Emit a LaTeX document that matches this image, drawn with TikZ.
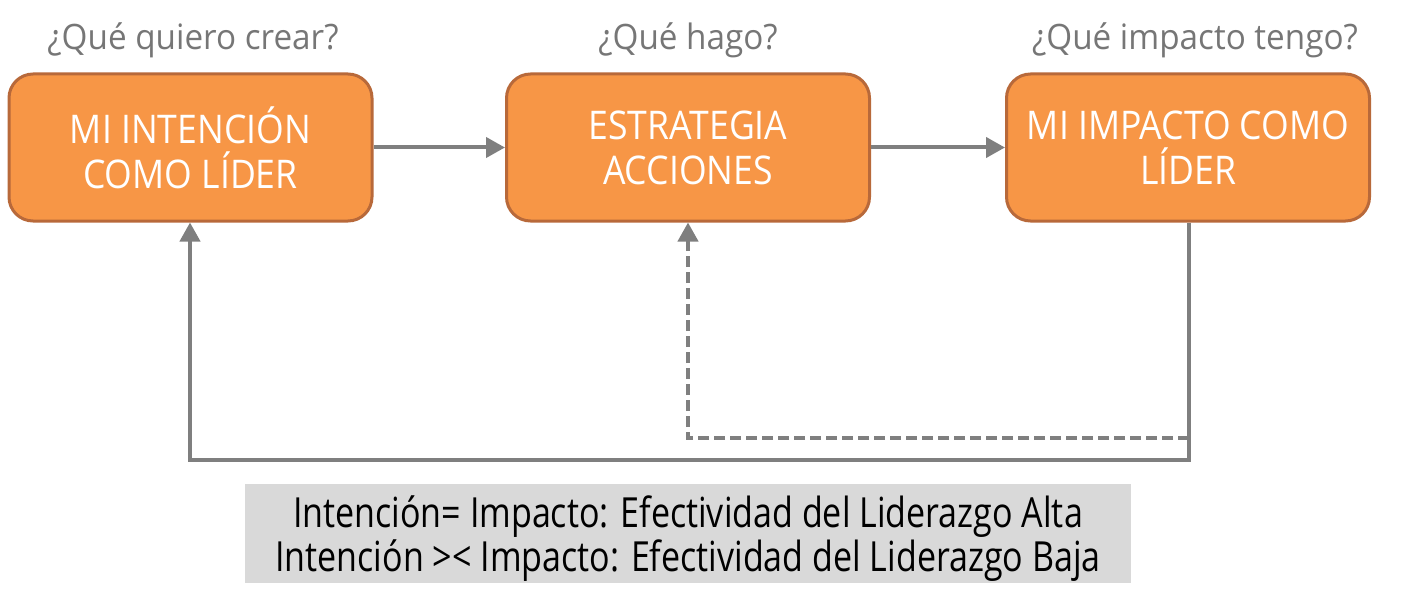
\documentclass[tikz,border=0pt]{standalone}
\usepackage{fontspec}
\setmainfont{Open Sans}
\newfontfamily\boxfont[FakeStretch=0.9]{Open Sans}
\newfontfamily\ttlfont[FakeStretch=0.95]{Open Sans}
\newfontfamily\notefont[FakeStretch=0.82]{Open Sans}
\usetikzlibrary{arrows.meta}
\definecolor{boxfill}{HTML}{F79646}
\definecolor{boxline}{HTML}{B8693A}
\definecolor{conn}{HTML}{7F7F7F}
\definecolor{ttl}{HTML}{767676}
\definecolor{notebg}{HTML}{D9D9D9}
\tikzset{
  stagebox/.style={draw=boxline, line width=3pt, fill=boxfill, rounded corners=24pt,
    minimum width=363pt, minimum height=147pt, inner sep=0pt, align=center,
    text=white, font=\boxfont\fontsize{39.5}{45}\selectfont},
  ttlnode/.style={text=ttl, font=\ttlfont\fontsize{35}{40}\selectfont, inner sep=0pt},
  flow/.style={draw=conn, line width=4pt, -{Triangle[length=19pt,width=20pt]}},
  flowdash/.style={flow, dash pattern=on 11pt off 5pt},
  notebox/.style={fill=notebg, minimum width=886pt, minimum height=99pt, inner sep=0pt},
  notetext/.style={inner sep=0pt, align=center, text=black,
    font=\notefont\fontsize{41.5}{44}\selectfont}
}
\begin{document}
\begin{tikzpicture}[x=1pt,y=-1pt]
\useasboundingbox (0,0) rectangle (1404,604);
\node[stagebox] (b1) at (190.5,147.5) {MI INTENCIÓN\\COMO LÍDER};
\node[stagebox] (b2) at (688,147.5) {ESTRATEGIA\\ACCIONES};
\node[stagebox] (b3) at (1188,147.5) {MI IMPACTO COMO\\LÍDER};
\node[ttlnode] (t1) at (193,40) {¿Qué quiero crear?};
\node[ttlnode] (t2) at (688,40) {¿Qué hago?};
\node[ttlnode] (t3) at (1195,40) {¿Qué impacto tengo?};
\node[notebox] (note) at (688,533.5) {};
\node[notetext] (notetxt) at (688,539) {Intención= Impacto: Efectividad del Liderazgo Alta\\Intención >< Impacto: Efectividad del Liderazgo Baja};
\coordinate (c1) at (1189,460);
\coordinate (c2) at (190,460);
\coordinate (c3) at (1189,438);
\coordinate (c4) at (688,438);
\draw[flow] (b1.east) -- (b2.west);
\draw[flow] (b2.east) -- (b3.west);
\draw[flowdash] (c3) -- (c4) -- (b2.south);
\draw[flow] (b3.south -| c1) -- (c1) -- (c2) -- (b1.south -| c2);
\end{tikzpicture}
\end{document}
